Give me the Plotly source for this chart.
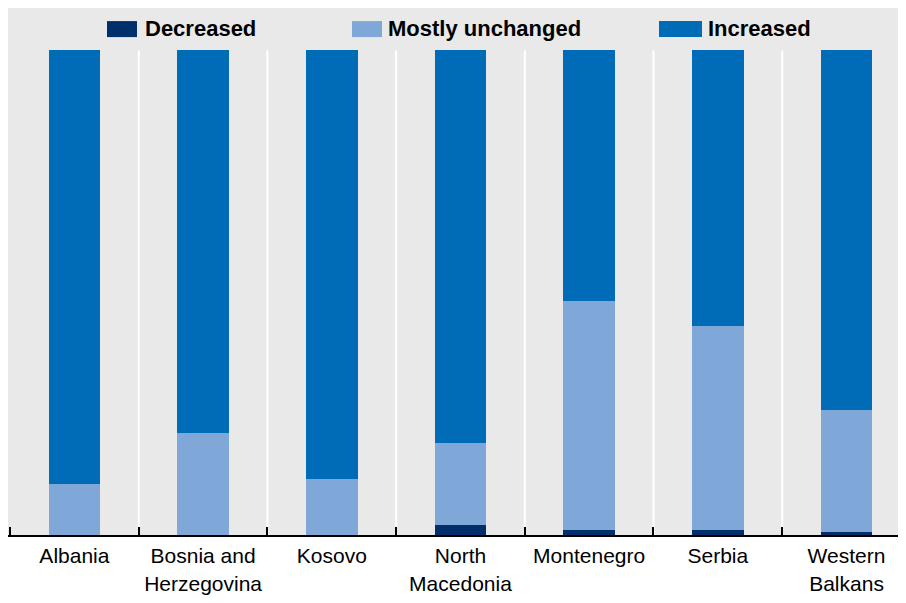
import plotly.graph_objects as go

categories = ["Albania", "Bosnia and<br>Herzegovina", "Kosovo", "North<br>Macedonia",
              "Montenegro", "Serbia", "Western<br>Balkans"]
decreased = [0.0, 0.0, 0.0, 2.1, 1.0, 1.0, 0.6]
unchanged = [10.5, 21.0, 11.5, 16.9, 47.2, 42.1, 25.2]
increased = [round(100 - d - u, 1) for d, u in zip(decreased, unchanged)]

series_names = ["Decreased", "Mostly unchanged", "Increased"]
series_values = [decreased, unchanged, increased]
series_colors = ["#002F6C", "#7FA8D9", "#006BB6"]

# legend layout (paper px of swatch left edge, swatch width, text left edge)
legend_swatch_x = [99, 344, 651]
legend_swatch_w = [30, 30, 43]
legend_text_x = [135, 378, 698]

W, H = 890, 587
x = list(range(len(categories)))
fig = go.Figure()
for name, vals, col in zip(series_names, series_values, series_colors):
    fig.add_trace(go.Bar(x=x, y=vals, name=name, marker=dict(color=col, line=dict(width=0)),
                         width=0.4, showlegend=False))

# white separators between categories
for b in [i + 0.5 for i in range(len(categories) - 1)]:
    fig.add_shape(type="line", xref="x", yref="y", x0=b, x1=b, y0=0, y1=100,
                  line=dict(color="white", width=2), layer="below")

font = "Liberation Sans, Arial"
# manual legend
for name, col, sx, sw, tx in zip(series_names, series_colors, legend_swatch_x,
                                 legend_swatch_w, legend_text_x):
    fig.add_shape(type="rect", xref="paper", yref="y", x0=sx / W, x1=(sx + sw) / W,
                  y0=102.7, y1=106.0, fillcolor=col, line=dict(width=0))
    fig.add_annotation(xref="paper", yref="y", x=tx / W, y=104.4, text="<b>" + name + "</b>",
                       showarrow=False, xanchor="left", yanchor="middle",
                       font=dict(family=font, size=22, color="black"))

fig.update_layout(
    barmode="stack",
    width=W, height=H,
    margin=dict(l=0, r=0, t=0, b=60, autoexpand=False),
    paper_bgcolor="white",
    plot_bgcolor="#E9E9E9",
    font=dict(family=font, size=21, color="black"),
    showlegend=False,
    xaxis=dict(tickvals=x, ticktext=categories, range=[-0.516, 6.40], showgrid=False,
               zeroline=False, showline=True, linecolor="black", linewidth=2,
               ticks="", tickfont=dict(size=21), ticklabelstandoff=1, automargin=False),
    xaxis2=dict(overlaying="x", matches="x", tickvals=[i - 0.5 for i in range(len(categories) + 1)],
                ticks="inside", ticklen=8, tickwidth=2, tickcolor="black",
                showticklabels=False, showgrid=False, zeroline=False, side="bottom",
                automargin=False),
    yaxis=dict(range=[0, 108.7], showticklabels=False, showgrid=False, zeroline=False,
               automargin=False),
)
fig.add_trace(go.Scatter(x=[0], y=[0], xaxis="x2", mode="markers", marker=dict(opacity=0),
                         showlegend=False, hoverinfo="skip"))
fig.write_html("out.html")
